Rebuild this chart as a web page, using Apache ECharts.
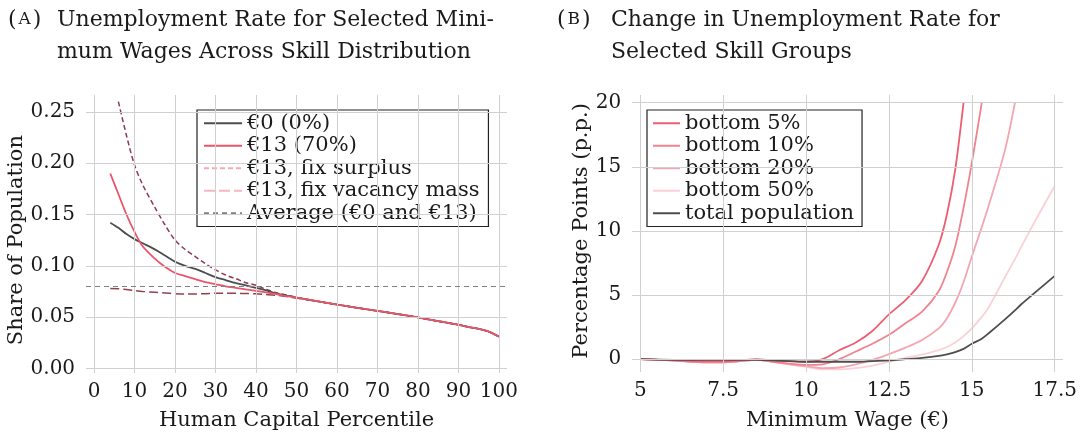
<!DOCTYPE html>
<html>
<head>
<meta charset="utf-8">
<script src="https://cdn.jsdelivr.net/npm/echarts@6.0.0/dist/echarts.min.js"></script>
<style>
  html, body { margin: 0; padding: 0; background: #fff; }
  #main { width: 1081px; height: 432px; }
</style>
</head>
<body>
<div id="main"></div>
<script>
// ---- panel A data: unemployment share by human capital percentile ----
var pctX = [4, 6, 8, 10, 12, 15, 17.5, 20, 22.5, 25, 27.5, 30, 32.5, 35, 37.5, 40, 42.5, 45, 47.5, 50,
            55, 60, 65, 70, 75, 80, 85, 90, 93, 95, 97, 98, 99, 100];
// all four curves share the same right tail (55..100)
var shareTail = [0.0655, 0.0622, 0.059, 0.056, 0.053, 0.0497, 0.046, 0.0425, 0.040, 0.0385, 0.0365, 0.035, 0.033, 0.031];
var wage0Head = [0.142, 0.137, 0.131, 0.126, 0.122, 0.116, 0.110, 0.104, 0.100, 0.097, 0.093, 0.089, 0.086, 0.083, 0.081, 0.0785, 0.076, 0.073, 0.071, 0.069];
var wage13Head = [0.190, 0.170, 0.150, 0.133, 0.119, 0.107, 0.099, 0.093, 0.090, 0.087, 0.084, 0.082, 0.080, 0.0785, 0.077, 0.0756, 0.074, 0.0725, 0.0705, 0.069];
var fixSurplusHead = [null, 0.260, 0.227, 0.198, 0.179, 0.157, 0.140, 0.125, 0.116, 0.109, 0.102, 0.096, 0.091, 0.0875, 0.0835, 0.081, 0.077, 0.0737, 0.0715, 0.0692];
var fixVacancyHead = [0.0778, 0.0776, 0.0768, 0.0758, 0.075, 0.0742, 0.0735, 0.0728, 0.0725, 0.0725, 0.0728, 0.0732, 0.0733, 0.0732, 0.073, 0.0727, 0.072, 0.0712, 0.070, 0.0685];
var averageShare = 0.0756;

var pctTicks = [0, 10, 20, 30, 40, 50, 60, 70, 80, 90, 100];
var shareTicks = [0, 0.05, 0.10, 0.15, 0.20, 0.25];

// ---- panel B data: change in unemployment (p.p.) by minimum wage ----
var wageX = [5, 6, 7, 7.5, 8, 8.5, 9, 9.5, 10, 10.5, 11, 11.5, 12, 12.5, 13, 13.5, 14, 14.25, 14.5, 14.75,
             15, 15.3, 15.5, 16, 16.3, 16.5, 17, 17.5];
var bottom5 = [0, -0.1, -0.15, -0.15, -0.1, 0, -0.1, -0.15, -0.2, 0, 0.7, 1.3, 2.2, 3.5, 4.6, 6.1, 8.9, 11.3, 14.8, 20];
var bottom10 = [0, -0.1, -0.25, -0.25, -0.15, -0.05, -0.2, -0.35, -0.45, -0.4, 0.0, 0.6, 1.2, 1.9, 2.8, 3.7, 5.3, 6.8, 8.8, 11.8, 15.3, 20];
var bottom20 = [0, -0.1, -0.25, -0.25, -0.15, -0.05, -0.2, -0.4, -0.55, -0.7, -0.65, -0.4, -0.05, 0.4, 0.9, 1.5, 2.4, 3.2, 4.4, 6.0, 8.0, 10.3, 11.9, 16.3, 20];
var bottom50 = [0, -0.1, -0.25, -0.25, -0.15, -0.05, -0.2, -0.4, -0.6, -0.8, -0.8, -0.7, -0.5, -0.2, 0.1, 0.35, 0.7, 0.95, 1.3, 1.8, 2.4, 3.3, 4.0, 6.4, 7.8, 8.8, 11.2, 13.5];
var totalPop = [0, -0.05, -0.05, -0.05, -0.05, -0.05, -0.1, -0.15, -0.2, -0.2, -0.2, -0.2, -0.15, -0.1, 0, 0.1, 0.25, 0.38, 0.55, 0.8, 1.2, 1.6, 2.0, 3.1, 3.8, 4.3, 5.4, 6.5];

var wageTicks = [5, 7.5, 10, 12.5, 15, 17.5];
var ppTicks = [0, 5, 10, 15, 20];

var FONT = 'DejaVu Serif';
var INK = '#1a1a1a';
var GRIDC = '#d0d0d0';

// pair up x list with a value list (stops where the values stop)
function pairs(xs, ys) {
    var out = [];
    for (var i = 0; i < ys.length; i++) out.push([xs[i], ys[i]]);
    return out;
}

// outer grid = full gridline area, inner grid = first..last tick (for the labels)
var outerA = {left: 86, top: 95, width: 421, height: 278, xr: [-2, 102], yr: [-0.0045, 0.2665]};
var outerB = {left: 632, top: 95, width: 431, height: 277, xr: [4.75, 17.75], yr: [-1, 20.6]};

function innerOf(o, xi, yi) {
    var sx = o.width / (o.xr[1] - o.xr[0]);
    var sy = o.height / (o.yr[1] - o.yr[0]);
    return {
        left: o.left + (xi[0] - o.xr[0]) * sx,
        width: (xi[1] - xi[0]) * sx,
        top: o.top + (o.yr[1] - yi[1]) * sy,
        height: (yi[1] - yi[0]) * sy,
        outerBoundsMode: 'none'
    };
}
var innerA = innerOf(outerA, [0, 100], [0, 0.25]);
var innerB = innerOf(outerB, [5, 17.5], [0, 20]);

function hiddenAxis(r) {
    return {type: 'value', min: r[0], max: r[1], show: false, splitLine: {show: false}};
}

function gridLines(xs, ys) {
    return {
        silent: true, symbol: ['none', 'none'], animation: false,
        label: {show: false},
        lineStyle: {color: GRIDC, width: 1, type: 'solid'},
        data: xs.map(function (v) { return {xAxis: v}; })
            .concat(ys.map(function (v) { return {yAxis: v}; }))
    };
}

function curve(name, data, axis, color, width, dash, z) {
    return {
        name: name, type: 'line', data: data,
        xAxisIndex: axis, yAxisIndex: axis,
        symbol: 'none', smooth: 0.3, z: z || 3,
        lineStyle: {color: color, width: width, type: dash || 'solid'},
        itemStyle: {color: color}
    };
}

var labelStyle = {color: INK, fontFamily: FONT, fontSize: 20};
var nameStyle = {color: INK, fontFamily: FONT, fontSize: 21};
var tagRich = {s: {fontFamily: FONT, fontSize: 17, color: INK, padding: [0, 2, 0, 2]}};

var option = {
    animation: false,
    backgroundColor: '#fff',
    title: [
        {text: '({s|A})', left: 8, top: 4, padding: 0,
         textStyle: {fontFamily: FONT, fontSize: 22, fontWeight: 'normal', color: INK, lineHeight: 32, rich: tagRich}},
        {text: 'Unemployment Rate for Selected Mini-\nmum Wages Across Skill Distribution', left: 57, top: 4, padding: 0,
         textStyle: {fontFamily: FONT, fontSize: 22, fontWeight: 'normal', color: INK, lineHeight: 32}},
        {text: '({s|B})', left: 557, top: 4, padding: 0,
         textStyle: {fontFamily: FONT, fontSize: 22, fontWeight: 'normal', color: INK, lineHeight: 32, rich: tagRich}},
        {text: 'Change in Unemployment Rate for\nSelected Skill Groups', left: 611, top: 4, padding: 0,
         textStyle: {fontFamily: FONT, fontSize: 22, fontWeight: 'normal', color: INK, lineHeight: 32}}
    ],
    grid: [
        {left: outerA.left, top: outerA.top, width: outerA.width, height: outerA.height, outerBoundsMode: 'none'},
        innerA,
        {left: outerB.left, top: outerB.top, width: outerB.width, height: outerB.height, outerBoundsMode: 'none'},
        innerB
    ],
    xAxis: [
        hiddenAxis(outerA.xr),
        {type: 'value', gridIndex: 1, min: 0, max: 100, interval: 10,
         axisLine: {show: false}, axisTick: {show: false}, splitLine: {show: false},
         axisLabel: Object.assign({margin: 13}, labelStyle),
         name: 'Human Capital Percentile', nameLocation: 'middle', nameGap: 42, nameTextStyle: nameStyle},
        Object.assign(hiddenAxis(outerB.xr), {gridIndex: 2}),
        {type: 'value', gridIndex: 3, min: 5, max: 17.5, interval: 2.5,
         axisLine: {show: false}, axisTick: {show: false}, splitLine: {show: false},
         axisLabel: Object.assign({margin: 22}, labelStyle),
         name: 'Minimum Wage (€)', nameLocation: 'middle', nameGap: 51, nameTextStyle: nameStyle}
    ],
    yAxis: [
        hiddenAxis(outerA.yr),
        {type: 'value', gridIndex: 1, min: 0, max: 0.25, interval: 0.05,
         axisLine: {show: false}, axisTick: {show: false}, splitLine: {show: false},
         axisLabel: Object.assign({margin: 19, formatter: function (v) { return v.toFixed(2); }}, labelStyle),
         name: 'Share of Population', nameLocation: 'middle', nameGap: 57, nameTextStyle: nameStyle},
        Object.assign(hiddenAxis(outerB.yr), {gridIndex: 2}),
        {type: 'value', gridIndex: 3, min: 0, max: 20, interval: 5,
         axisLine: {show: false}, axisTick: {show: false}, splitLine: {show: false},
         axisLabel: Object.assign({margin: 19}, labelStyle),
         name: 'Percentage Points (p.p.)', nameLocation: 'middle', nameGap: 48, nameTextStyle: nameStyle}
    ],
    legend: [
        {
            left: 197, top: 110, orient: 'vertical', itemGap: 0, itemWidth: 38, itemHeight: 10,
            padding: [2, 9, 2, 6], borderColor: '#222', borderWidth: 1.2, backgroundColor: '#fff',
            itemStyle: {opacity: 0},
            textStyle: {fontFamily: FONT, fontSize: 21, color: INK, lineHeight: 22.5},
            data: [
                {name: '€0 (0%)'},
                {name: '€13 (70%)'},
                {name: '€13, fix surplus', lineStyle: {color: '#f5a9b4', type: [5, 3]}},
                {name: '€13, fix vacancy mass', lineStyle: {color: '#f7b6c0', type: [11, 4]}},
                {name: 'Average (€0 and €13)'}
            ]
        },
        {
            left: 647, top: 110, orient: 'vertical', itemGap: 0, itemWidth: 27, itemHeight: 10,
            padding: [2, 8, 2, 5], borderColor: '#222', borderWidth: 1.2, backgroundColor: '#fff',
            itemStyle: {opacity: 0},
            textStyle: {fontFamily: FONT, fontSize: 21, color: INK, lineHeight: 22.5},
            data: ['bottom 5%', 'bottom 10%', 'bottom 20%', 'bottom 50%', 'total population']
        }
    ],
    series: [
        // gridlines of both panels
        {type: 'line', name: 'gridA', data: [], xAxisIndex: 0, yAxisIndex: 0, z: 1, markLine: gridLines(pctTicks, shareTicks)},
        {type: 'line', name: 'gridB', data: [], xAxisIndex: 2, yAxisIndex: 2, z: 1, markLine: gridLines(wageTicks, ppTicks)},

        // panel A
        {type: 'line', name: 'Average (€0 and €13)', data: [], xAxisIndex: 0, yAxisIndex: 0, z: 2,
         symbol: 'none', lineStyle: {color: '#808080', width: 1, type: [5, 4]}, itemStyle: {color: '#808080'},
         markLine: {silent: true, symbol: ['none', 'none'], label: {show: false},
                    lineStyle: {color: '#808080', width: 1, type: [5, 4]},
                    data: [{yAxis: averageShare}]}},
        curve('€13, fix vacancy mass', pairs(pctX, fixVacancyHead.concat(shareTail)), 0, '#93404f', 1.5, [9, 4]),
        curve('€13, fix surplus', pairs(pctX, fixSurplusHead.concat(shareTail)), 0, '#8e3a4e', 1.5, [5, 3]),
        curve('€0 (0%)', pairs(pctX, wage0Head.concat(shareTail)), 0, '#4d4d4d', 1.8),
        curve('€13 (70%)', pairs(pctX, wage13Head.concat(shareTail)), 0, '#e9566a', 1.8, null, 4),

        // panel B
        curve('bottom 50%', pairs(wageX, bottom50), 2, '#f9d1d7', 1.8),
        curve('bottom 20%', pairs(wageX, bottom20), 2, '#f4a5af', 1.8),
        curve('bottom 10%', pairs(wageX, bottom10), 2, '#f0838f', 1.8),
        curve('bottom 5%', pairs(wageX, bottom5), 2, '#ec5f72', 1.8),
        curve('total population', pairs(wageX, totalPop), 2, '#4d4d4d', 1.8, null, 4)
    ]
};

var chart = echarts.init(document.getElementById('main'), null, {renderer: 'canvas'});
chart.setOption(option);
</script>
</body>
</html>
